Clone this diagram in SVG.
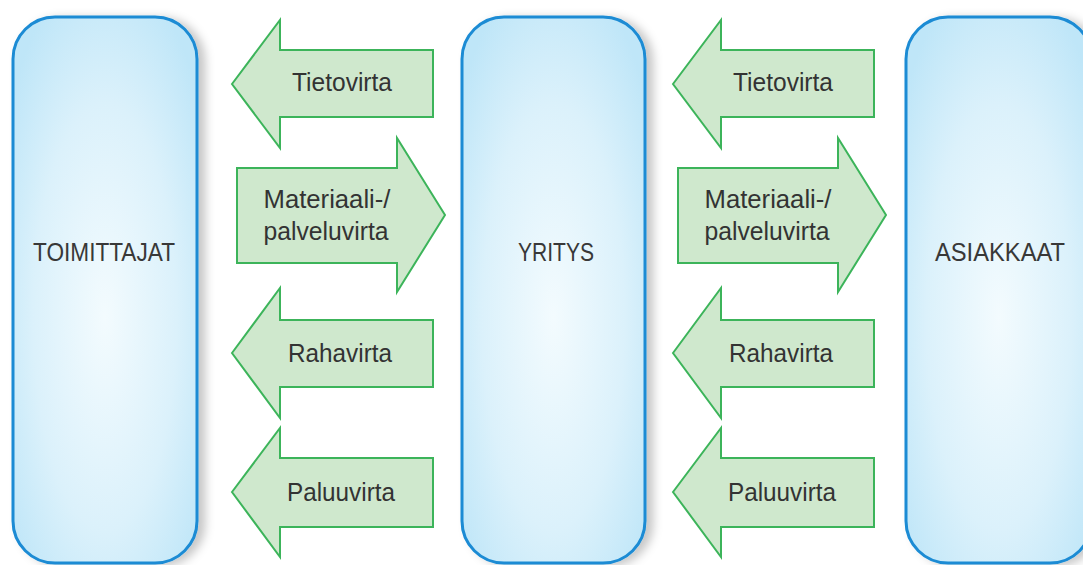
<svg xmlns="http://www.w3.org/2000/svg" width="1083" height="565" viewBox="0 0 1083 565">
<defs>
<radialGradient id="boxfill" cx="50%" cy="55%" r="65%" fx="50%" fy="55%">
<stop offset="0" stop-color="#f3fbfe"/>
<stop offset="0.6" stop-color="#dbf1fb"/>
<stop offset="1" stop-color="#bfe6f8"/>
</radialGradient>
<filter id="shadow" x="-20%" y="-10%" width="150%" height="120%">
<feDropShadow dx="7" dy="2" stdDeviation="5" flood-color="#000" flood-opacity="0.22"/>
</filter>
<style>
.box{fill:url(#boxfill);stroke:#1a8bd4;stroke-width:3;filter:url(#shadow)}
.arrow{fill:#cfe8cd;stroke:#3cb45a;stroke-width:2;stroke-linejoin:miter}
.lbl{font-family:"Liberation Sans",Arial,sans-serif;font-size:25px;fill:#333333;text-anchor:middle}
.node{font-family:"Liberation Sans",Arial,sans-serif;font-size:26px;fill:#383838;text-anchor:middle}
</style>
</defs>
<rect width="1083" height="565" fill="#ffffff"/>
<g id="toimittajat">
<rect class="box" x="13" y="17" width="184" height="546" rx="42" ry="42"/>
<text class="node" x="104" y="261" textLength="142" lengthAdjust="spacingAndGlyphs">TOIMITTAJAT</text>
</g>
<g id="yritys">
<rect class="box" x="462" y="17" width="183" height="546" rx="42" ry="42"/>
<text class="node" x="556" y="261" textLength="76" lengthAdjust="spacingAndGlyphs">YRITYS</text>
</g>
<g id="asiakkaat">
<rect class="box" x="906" y="17" width="186" height="546" rx="42" ry="42"/>
<text class="node" x="1000" y="261" textLength="130" lengthAdjust="spacingAndGlyphs">ASIAKKAAT</text>
</g>
<g id="connectors">
<g id="left-flows">
<path class="arrow" d="M232,84 L280,20 L280,50 L433,50 L433,117 L280,117 L280,148 Z"/>
<text class="lbl" x="342" y="91" textLength="100" lengthAdjust="spacingAndGlyphs">Tietovirta</text>
<path class="arrow" d="M445,215 L397,138 L397,168 L237,168 L237,263 L397,263 L397,292 Z"/>
<text class="lbl" x="327" y="208" textLength="127" lengthAdjust="spacingAndGlyphs">Materiaali-/</text>
<text class="lbl" x="326" y="240" textLength="125" lengthAdjust="spacingAndGlyphs">palveluvirta</text>
<path class="arrow" d="M232,353 L280,288 L280,320 L433,320 L433,387 L280,387 L280,418 Z"/>
<text class="lbl" x="340" y="362" textLength="104" lengthAdjust="spacingAndGlyphs">Rahavirta</text>
<path class="arrow" d="M232,492 L280,428 L280,458 L433,458 L433,527 L280,527 L280,557 Z"/>
<text class="lbl" x="341" y="501" textLength="108" lengthAdjust="spacingAndGlyphs">Paluuvirta</text>
</g>
<g id="right-flows">
<path class="arrow" d="M673,84 L721,20 L721,50 L874,50 L874,117 L721,117 L721,148 Z"/>
<text class="lbl" x="783" y="91" textLength="100" lengthAdjust="spacingAndGlyphs">Tietovirta</text>
<path class="arrow" d="M886,215 L838,138 L838,168 L678,168 L678,263 L838,263 L838,292 Z"/>
<text class="lbl" x="768" y="208" textLength="127" lengthAdjust="spacingAndGlyphs">Materiaali-/</text>
<text class="lbl" x="767" y="240" textLength="125" lengthAdjust="spacingAndGlyphs">palveluvirta</text>
<path class="arrow" d="M673,353 L721,288 L721,320 L874,320 L874,387 L721,387 L721,418 Z"/>
<text class="lbl" x="781" y="362" textLength="104" lengthAdjust="spacingAndGlyphs">Rahavirta</text>
<path class="arrow" d="M673,492 L721,428 L721,458 L874,458 L874,527 L721,527 L721,557 Z"/>
<text class="lbl" x="782" y="501" textLength="108" lengthAdjust="spacingAndGlyphs">Paluuvirta</text>
</g>
</g>
</svg>
